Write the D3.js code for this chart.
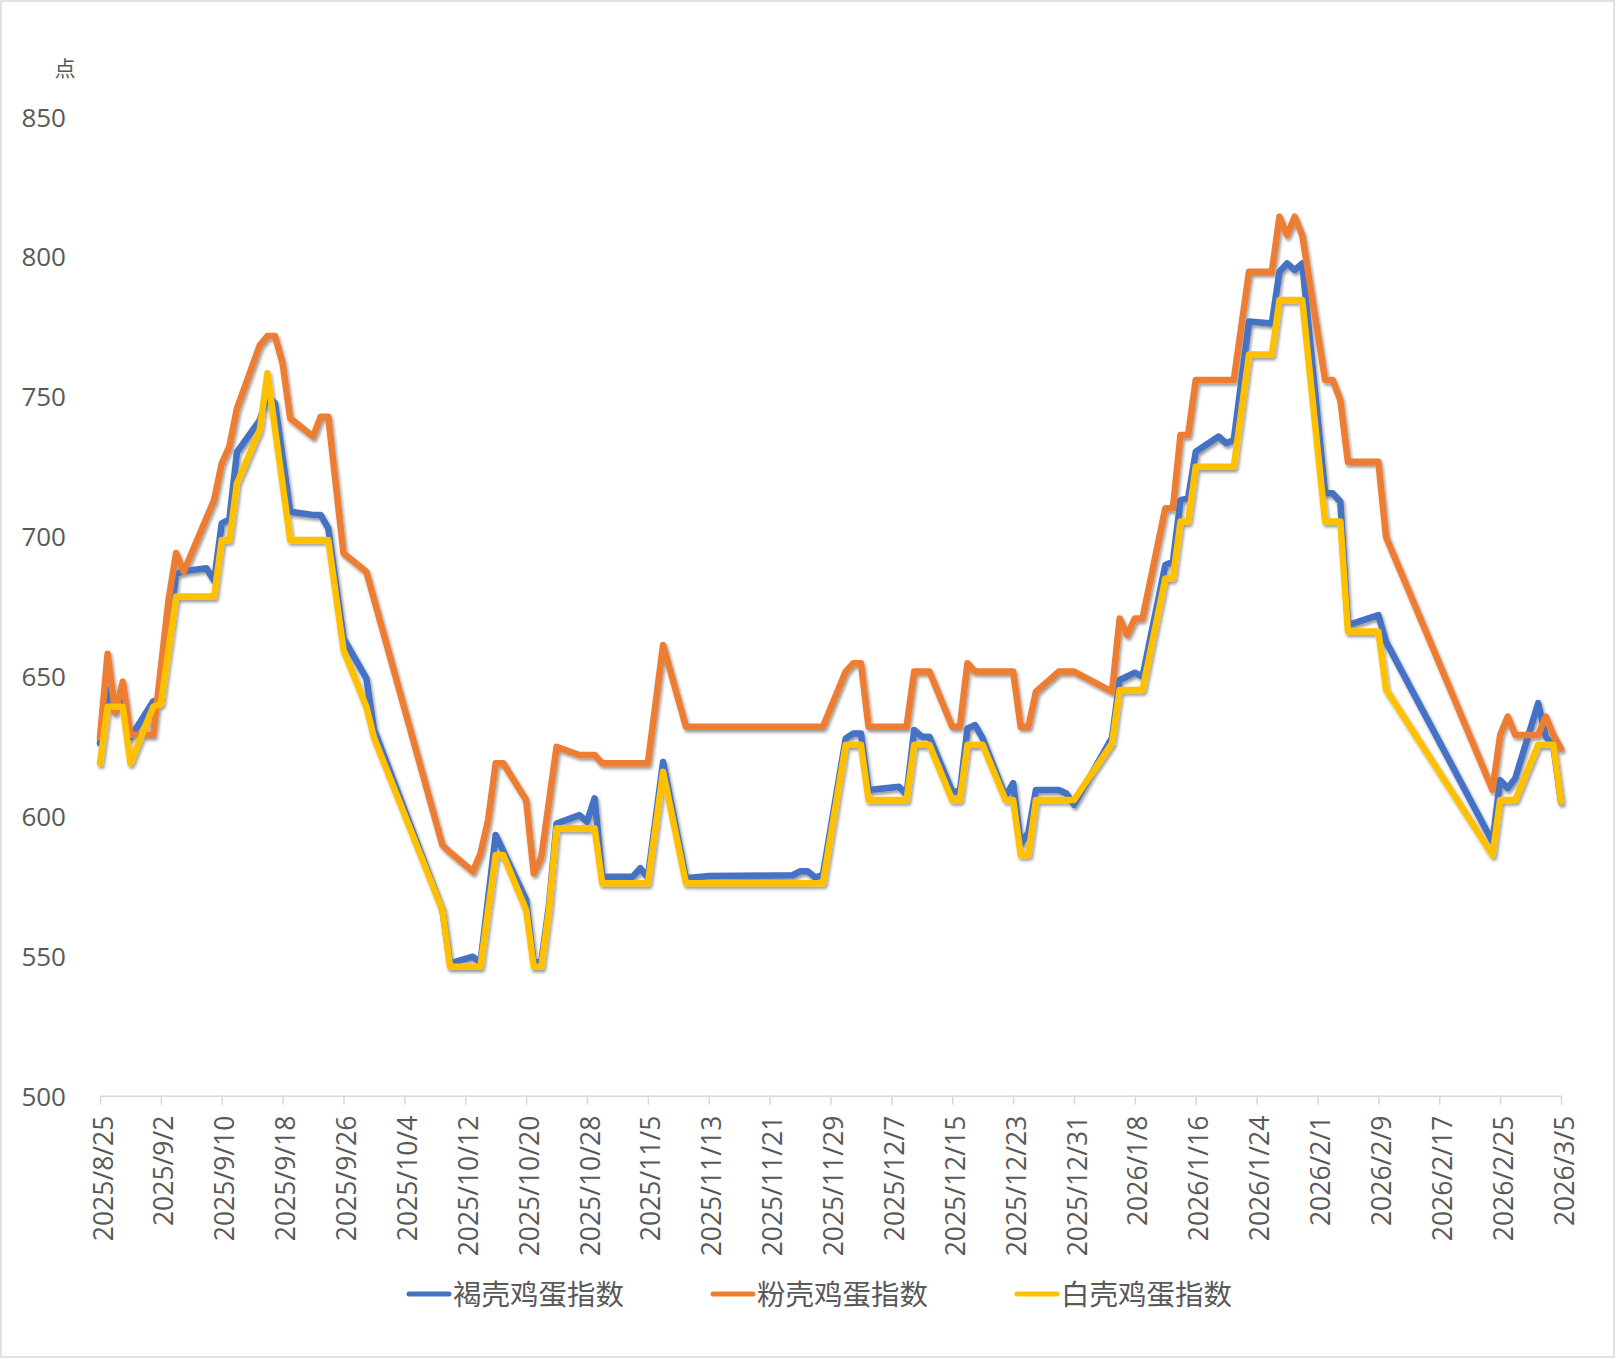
<!DOCTYPE html>
<html>
<head>
<meta charset="utf-8">
<script src="https://cdn.jsdelivr.net/npm/d3@7"></script>
<style>
  html, body { margin: 0; padding: 0; background: #fff; }
  text { font-family: "Open Sans", "Noto Sans CJK SC", sans-serif; fill: #595959; }
</style>
</head>
<body>
<div id="chart"></div>
<script>
// egg price indices, dates where the line changes direction
const brownDates = ["2025/8/25","2025/8/26","2025/8/27","2025/8/28","2025/8/29","2025/9/1","2025/9/2","2025/9/4","2025/9/5","2025/9/8","2025/9/9","2025/9/10","2025/9/11","2025/9/12","2025/9/15","2025/9/16","2025/9/17","2025/9/19","2025/9/22","2025/9/23","2025/9/24","2025/9/26","2025/9/29","2025/9/30","2025/10/9","2025/10/10","2025/10/13","2025/10/14","2025/10/16","2025/10/20","2025/10/21","2025/10/22","2025/10/23","2025/10/24","2025/10/27","2025/10/28","2025/10/29","2025/10/30","2025/11/3","2025/11/4","2025/11/5","2025/11/7","2025/11/10","2025/11/13","2025/11/24","2025/11/25","2025/11/26","2025/11/27","2025/11/28","2025/12/1","2025/12/2","2025/12/3","2025/12/4","2025/12/8","2025/12/9","2025/12/10","2025/12/11","2025/12/12","2025/12/15","2025/12/16","2025/12/17","2025/12/18","2025/12/19","2025/12/22","2025/12/23","2025/12/24","2025/12/25","2025/12/26","2025/12/29","2025/12/30","2025/12/31","2026/1/5","2026/1/6","2026/1/8","2026/1/9","2026/1/12","2026/1/13","2026/1/14","2026/1/15","2026/1/16","2026/1/19","2026/1/20","2026/1/21","2026/1/23","2026/1/26","2026/1/27","2026/1/28","2026/1/29","2026/1/30","2026/2/2","2026/2/3","2026/2/4","2026/2/5","2026/2/9","2026/2/10","2026/2/24","2026/2/25","2026/2/26","2026/2/27","2026/3/2","2026/3/3","2026/3/4","2026/3/5"];
const brownValues = [626,645,637,644,628,641,641,686.5,687.5,688.5,684,704.6,706,730,741.5,750,747.5,708.7,707.6,707.6,702.8,663.5,649.2,631,566.4,547.3,549.7,547.5,593.2,570,547.3,548,568,597.3,600.3,597.9,606.3,578.3,578.3,581.3,578,619.3,577.7,578.5,578.8,580.2,580.2,578,579,627.7,629.5,629.5,609.3,610.4,607.7,630.7,628.3,628.3,608.7,608.7,631.3,632.5,627.7,606.9,611.7,590,594,609.3,609.3,608,604,628,648.6,651.2,649.8,689.7,690.9,712.9,713.5,730.2,735.6,733.2,734.4,776.7,776,794.5,797.5,795.1,797.5,715.3,715.3,712.3,668.2,671.8,662.3,590.8,612.8,609.9,613.5,640.3,628.3,625,605];

const pinkDates = ["2025/8/25","2025/8/26","2025/8/27","2025/8/28","2025/8/29","2025/9/1","2025/9/3","2025/9/4","2025/9/5","2025/9/9","2025/9/10","2025/9/11","2025/9/12","2025/9/15","2025/9/16","2025/9/17","2025/9/18","2025/9/19","2025/9/22","2025/9/23","2025/9/24","2025/9/26","2025/9/29","2025/10/9","2025/10/10","2025/10/13","2025/10/14","2025/10/15","2025/10/16","2025/10/17","2025/10/20","2025/10/21","2025/10/22","2025/10/24","2025/10/27","2025/10/29","2025/10/30","2025/11/5","2025/11/7","2025/11/10","2025/11/28","2025/12/1","2025/12/2","2025/12/3","2025/12/4","2025/12/9","2025/12/10","2025/12/12","2025/12/15","2025/12/16","2025/12/17","2025/12/18","2025/12/23","2025/12/24","2025/12/25","2025/12/26","2025/12/29","2025/12/31","2026/1/5","2026/1/6","2026/1/7","2026/1/8","2026/1/9","2026/1/12","2026/1/13","2026/1/14","2026/1/15","2026/1/16","2026/1/21","2026/1/23","2026/1/26","2026/1/27","2026/1/28","2026/1/29","2026/1/30","2026/2/2","2026/2/3","2026/2/4","2026/2/5","2026/2/9","2026/2/10","2026/2/24","2026/2/25","2026/2/26","2026/2/27","2026/3/2","2026/3/3","2026/3/4","2026/3/5"];
const pinkValues = [628,658,637,648,629,629,677,694,687.3,713,726,732,745.7,768.3,771.5,771.5,761.8,742.1,735.6,742.7,742.7,693.9,687.3,589.6,587,580.1,586.6,598.5,618.8,618.8,605.7,579.5,585.4,624.7,621.8,621.8,618.8,618.8,661.1,631.9,631.9,651.6,654.6,654.6,631.9,631.9,651.6,651.6,631.9,631.9,654.6,651.6,651.6,631.9,631.9,644.4,651.6,651.6,644.4,670.6,664.7,670.6,670.6,710,710,736.2,736.2,755.8,755.8,794.5,794.5,814.2,807.6,814.2,807.6,755.8,755.8,748.7,726.6,726.6,699.8,609.3,628.9,635.5,628.9,628.9,635.5,628.9,624];

const whiteDates = ["2025/8/25","2025/8/26","2025/8/28","2025/8/29","2025/9/1","2025/9/2","2025/9/4","2025/9/9","2025/9/10","2025/9/11","2025/9/12","2025/9/15","2025/9/16","2025/9/19","2025/9/24","2025/9/26","2025/9/29","2025/9/30","2025/10/9","2025/10/10","2025/10/14","2025/10/16","2025/10/17","2025/10/20","2025/10/21","2025/10/22","2025/10/23","2025/10/24","2025/10/29","2025/10/30","2025/11/5","2025/11/7","2025/11/10","2025/11/28","2025/12/1","2025/12/3","2025/12/4","2025/12/9","2025/12/10","2025/12/12","2025/12/15","2025/12/16","2025/12/17","2025/12/19","2025/12/22","2025/12/23","2025/12/24","2025/12/25","2025/12/26","2025/12/31","2026/1/5","2026/1/6","2026/1/9","2026/1/12","2026/1/13","2026/1/14","2026/1/15","2026/1/16","2026/1/21","2026/1/23","2026/1/26","2026/1/27","2026/1/30","2026/2/2","2026/2/4","2026/2/5","2026/2/9","2026/2/10","2026/2/24","2026/2/25","2026/2/27","2026/3/2","2026/3/4","2026/3/5"];
const whiteValues = [618.8,639,639,618.8,639,640,678.4,678.4,698.6,698.6,718.9,738,758.2,698.6,698.6,659.3,639,628,566.4,546.1,546.1,586,586,566.4,546.1,546.1,566.4,595.6,595.6,575.9,575.9,615.8,575.9,575.9,625.4,625.4,605.7,605.7,625.4,625.4,605.7,605.7,625.4,625.4,605.7,605.7,586,586,605.7,605.7,626,645,645,684.9,684.9,705.2,705.2,724.8,724.8,764.9,764.9,784.4,784.4,705.2,705.2,665.9,665.9,645.3,586,605.7,605.7,625.4,625.4,605.1];

const seriesNames = ["褐壳鸡蛋指数", "粉壳鸡蛋指数", "白壳鸡蛋指数"];
const seriesColors = ["#4472C4", "#ED7D31", "#FFC000"];
const yTicks = [500, 550, 600, 650, 700, 750, 800, 850];
const startDate = "2025/8/25", endDate = "2026/3/5";

const W = 1616, H = 1359;
const parse = d3.timeParse("%Y/%m/%d");
const fmt = d3.timeFormat("%Y/%-m/%-d");

const series = [
  { name: seriesNames[0], color: seriesColors[0], pts: brownDates.map((d, i) => ({ date: parse(d), v: brownValues[i] })) },
  { name: seriesNames[1], color: seriesColors[1], pts: pinkDates.map((d, i) => ({ date: parse(d), v: pinkValues[i] })) },
  { name: seriesNames[2], color: seriesColors[2], pts: whiteDates.map((d, i) => ({ date: parse(d), v: whiteValues[i] })) }
];

const svg = d3.select('#chart').append('svg')
    .attr('width', W).attr('height', H);

svg.append('rect')
    .attr('x', 1).attr('y', 1).attr('width', W - 3).attr('height', H - 3)
    .attr('fill', '#fff').attr('stroke', '#d9d9d9').attr('stroke-width', 1.5);

// soft shadow under the lines
const f = svg.append('defs').append('filter').attr('id', 'shadow')
    .attr('x', '-5%').attr('y', '-5%').attr('width', '110%').attr('height', '110%');
f.append('feDropShadow')
    .attr('dx', 1.5).attr('dy', 2.5).attr('stdDeviation', 1.6)
    .attr('flood-color', '#000').attr('flood-opacity', 0.4);

const x = d3.scaleTime().domain([parse(startDate), parse(endDate)]).range([100, 1561]);
const y = d3.scaleLinear().domain([500, 850]).range([1095.7, 116.5]);

// y labels, no axis line or grid
svg.append('g').selectAll('text')
  .data(yTicks)
  .enter().append('text')
    .attr('x', 66).attr('y', d => y(d))
    .attr('text-anchor', 'end').attr('dominant-baseline', 'central')
    .attr('font-size', 26)
    .text(d => d);

svg.append('text')
    .attr('x', 65).attr('y', 68)
    .attr('text-anchor', 'middle').attr('dominant-baseline', 'central')
    .attr('font-size', 21)
    .text('点');

// x axis every 8 days
const xTicks = d3.range(0, 193, 8).map(k => d3.timeDay.offset(parse(startDate), k));
const xAxis = svg.append('g')
    .attr('transform', `translate(0,${y(500)})`)
    .call(d3.axisBottom(x).tickValues(xTicks).tickSize(9).tickSizeOuter(0).tickFormat(fmt));
xAxis.select('.domain').attr('stroke', '#d9d9d9').attr('stroke-width', 1.5);
xAxis.selectAll('.tick line').attr('stroke', '#d9d9d9').attr('stroke-width', 1.5);
xAxis.selectAll('.tick text')
    .attr('font-size', 26.5)
    .attr('text-anchor', 'end')
    .attr('dominant-baseline', 'central')
    .attr('transform', 'rotate(-90)')
    .attr('x', -20).attr('y', 2).attr('dy', null);

// lines
const line = d3.line().x(d => x(d.date)).y(d => y(d.v));
svg.append('g').attr('filter', 'url(#shadow)')
  .selectAll('path')
  .data(series)
  .enter().append('path')
    .attr('d', d => line(d.pts))
    .attr('fill', 'none')
    .attr('stroke', d => d.color)
    .attr('stroke-width', 6.5)
    .attr('stroke-linejoin', 'round')
    .attr('stroke-linecap', 'round');

// legend
const lg = svg.append('g').selectAll('g')
  .data(series)
  .enter().append('g')
    .attr('transform', (d, i) => `translate(${409 + i * 304},1294)`);
lg.append('line')
    .attr('x1', 0).attr('x2', 40)
    .attr('stroke', d => d.color).attr('stroke-width', 5).attr('stroke-linecap', 'round');
lg.append('text')
    .attr('x', 44).attr('dominant-baseline', 'central')
    .attr('font-size', 28.5)
    .text(d => d.name);
</script>
</body>
</html>
